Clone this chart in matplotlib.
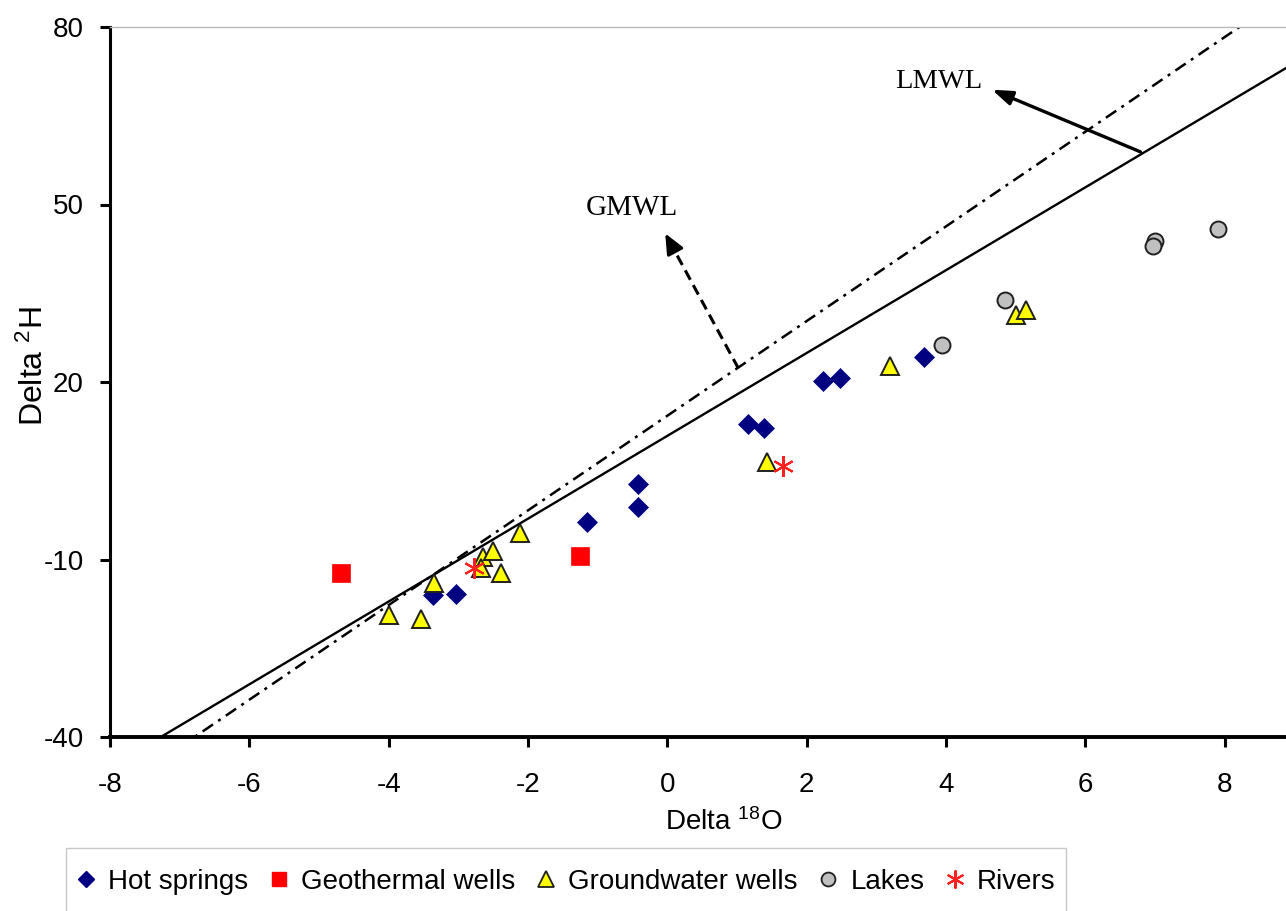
import matplotlib
matplotlib.use("Agg")
import matplotlib.pyplot as plt
from matplotlib.lines import Line2D
from matplotlib.patches import Rectangle
import numpy as np

plt.rcParams['font.family'] = ['Liberation Sans', 'DejaVu Sans']
plt.rcParams['mathtext.fontset'] = 'custom'
plt.rcParams['mathtext.rm'] = 'Liberation Sans'
plt.rcParams['mathtext.it'] = 'Liberation Sans:italic'
plt.rcParams['mathtext.bf'] = 'Liberation Sans:bold'
plt.rcParams['axes.unicode_minus'] = False

# Sample isotope data (delta 18O, delta 2H)
hot_x = [-3.37, -3.03, -1.16, -0.42, -0.42, 1.16, 1.39, 2.23, 2.48, 3.69]
hot_y = [-16.0, -15.9, -3.6, 2.7, -1.1, 12.9, 12.2, 20.1, 20.7, 24.3]

geo_x = [-4.68, -1.25]
geo_y = [-12.2, -9.4]

gw_x = [-4.00, -3.54, -3.35, -2.65, -2.50, -2.68, -2.39, -2.12, 1.43, 3.20, 5.00, 5.15]
gw_y = [-19.3, -20.1, -14.0, -9.6, -8.6, -11.5, -12.2, -5.5, 6.5, 22.7, 31.3, 32.1]

lake_x = [3.94, 4.85, 7.00, 6.97, 7.90]
lake_y = [26.3, 33.9, 43.9, 43.0, 45.8]

river_x = [-2.77, 1.66]
river_y = [-11.5, 5.8]

# Meteoric water lines: (slope, intercept)
gmwl = (8.0, 14.3)
lmwl = (7.0, 10.9)

x_ticks = [-8, -6, -4, -2, 0, 2, 4, 6, 8]
y_ticks = [-40, -10, 20, 50, 80]

W, H = 1286, 911
fig = plt.figure(figsize=(W / 100, H / 100), dpi=100)
ax = fig.add_axes([110 / W, 1 - 737 / H, 1 - 110 / W, (737 - 27) / H])
ax.set_xlim(-8, 8.88)
ax.set_ylim(-40, 80)

xs = np.array([-8, 8.88])
ax.plot(xs, gmwl[0] * xs + gmwl[1], color='black', lw=1.8,
        ls=(0, (5, 2.5, 1.2, 2.5)), zorder=2)
ax.plot(xs, lmwl[0] * xs + lmwl[1], color='black', lw=1.7, zorder=2)

ax.plot(hot_x, hot_y, ls='none', marker='D', ms=10, mfc='#000080',
        mec='#000080', mew=0.5, zorder=3)
ax.plot(geo_x, geo_y, ls='none', marker='s', ms=12.5, mfc='#ff0000',
        mec='#ff0000', mew=0.5, zorder=3)
ax.plot(lake_x, lake_y, ls='none', marker='o', ms=11.5, mfc='#c0c0c0',
        mec='#202020', mew=1.4, zorder=3)
ax.plot(gw_x, gw_y, ls='none', marker='^', ms=13, mfc='#ffff00',
        mec='#202020', mew=1.4, zorder=4)
ax.plot(river_x, river_y, ls='none', marker=(6, 2, 0), ms=15, mfc='none',
        mec='#ff2020', mew=1.5, zorder=5)

# LMWL label with solid arrow
ax.annotate('', xy=(4.66, 69.4), xytext=(6.79, 58.9),
            arrowprops=dict(arrowstyle='-|>,head_length=0.45,head_width=0.16',
                            mutation_scale=27, lw=2.4, color='black',
                            shrinkA=0, shrinkB=0), zorder=6)
ax.text(3.90, 70.8, 'LMWL', family='Liberation Serif', fontsize=20.5,
        ha='center', va='center')

# GMWL label with dashed shaft and solid head
g_tail = (1.02, 22.3)
g_tip = (-0.03, 45.1)
g_mid = (g_tip[0] + 0.12 * (g_tail[0] - g_tip[0]),
         g_tip[1] + 0.12 * (g_tail[1] - g_tip[1]))
ax.plot([g_tail[0], g_mid[0]], [g_tail[1], g_mid[1]], color='black', lw=2.2,
        ls=(0, (3.5, 2)), zorder=6)
ax.annotate('', xy=g_tip, xytext=g_mid,
            arrowprops=dict(arrowstyle='-|>,head_length=0.45,head_width=0.2',
                            mutation_scale=27, lw=2.2, color='black',
                            shrinkA=0, shrinkB=0), zorder=6)
ax.text(-0.51, 49.4, 'GMWL', family='Liberation Serif', fontsize=21,
        ha='center', va='center')

# Axes styling
ax.set_xticks(x_ticks)
ax.set_yticks(y_ticks)
ax.spines['right'].set_visible(False)
ax.spines['top'].set_color('#b8b8b8')
ax.spines['top'].set_linewidth(1.0)
ax.spines['left'].set_linewidth(2.2)
ax.spines['bottom'].set_linewidth(2.8)
ax.tick_params(axis='both', direction='out', length=7, width=2.2,
               labelsize=20, colors='black')
ax.tick_params(axis='x', pad=18)
ax.tick_params(axis='y', pad=12)

ax.set_xlabel('Delta $^{18}$O', fontsize=20)
ax.xaxis.set_label_coords((724 - 110) / 1176, (737 - 808) / 710)
ax.set_ylabel('Delta $^{2}$H', fontsize=23)
ax.yaxis.set_label_coords((50 - 110) / 1176, (737 - 366) / 710)

# Legend below the plot
handles = [
    Line2D([], [], ls='none', marker='D', ms=8, mfc='#000080', mec='#000080',
           label='Hot springs'),
    Line2D([], [], ls='none', marker='s', ms=10, mfc='#ff0000', mec='#ff0000',
           label='Geothermal wells'),
    Line2D([], [], ls='none', marker='^', ms=11, mfc='#ffff00', mec='#202020',
           mew=1.3, label='Groundwater wells'),
    Line2D([], [], ls='none', marker='o', ms=10, mfc='#c0c0c0', mec='#202020',
           mew=1.3, label='Lakes'),
    Line2D([], [], ls='none', marker=(6, 2, 0), ms=13, mfc='none',
           mec='#ff2020', mew=1.5, label='Rivers'),
]
fig.patches.append(Rectangle((66 / W, 1 - 920 / H), 1000 / W, 72 / H,
                             transform=fig.transFigure, fill=False,
                             edgecolor='#c8c8c8', lw=1.0))
leg = fig.legend(handles=handles, loc='center left',
                 bbox_to_anchor=(79 / W, 1 - 882 / H), ncol=5, fontsize=20,
                 frameon=False, handlelength=0.5, handletextpad=0.55,
                 columnspacing=0.85, borderpad=0, borderaxespad=0)

fig.savefig('out.png', dpi=100)
